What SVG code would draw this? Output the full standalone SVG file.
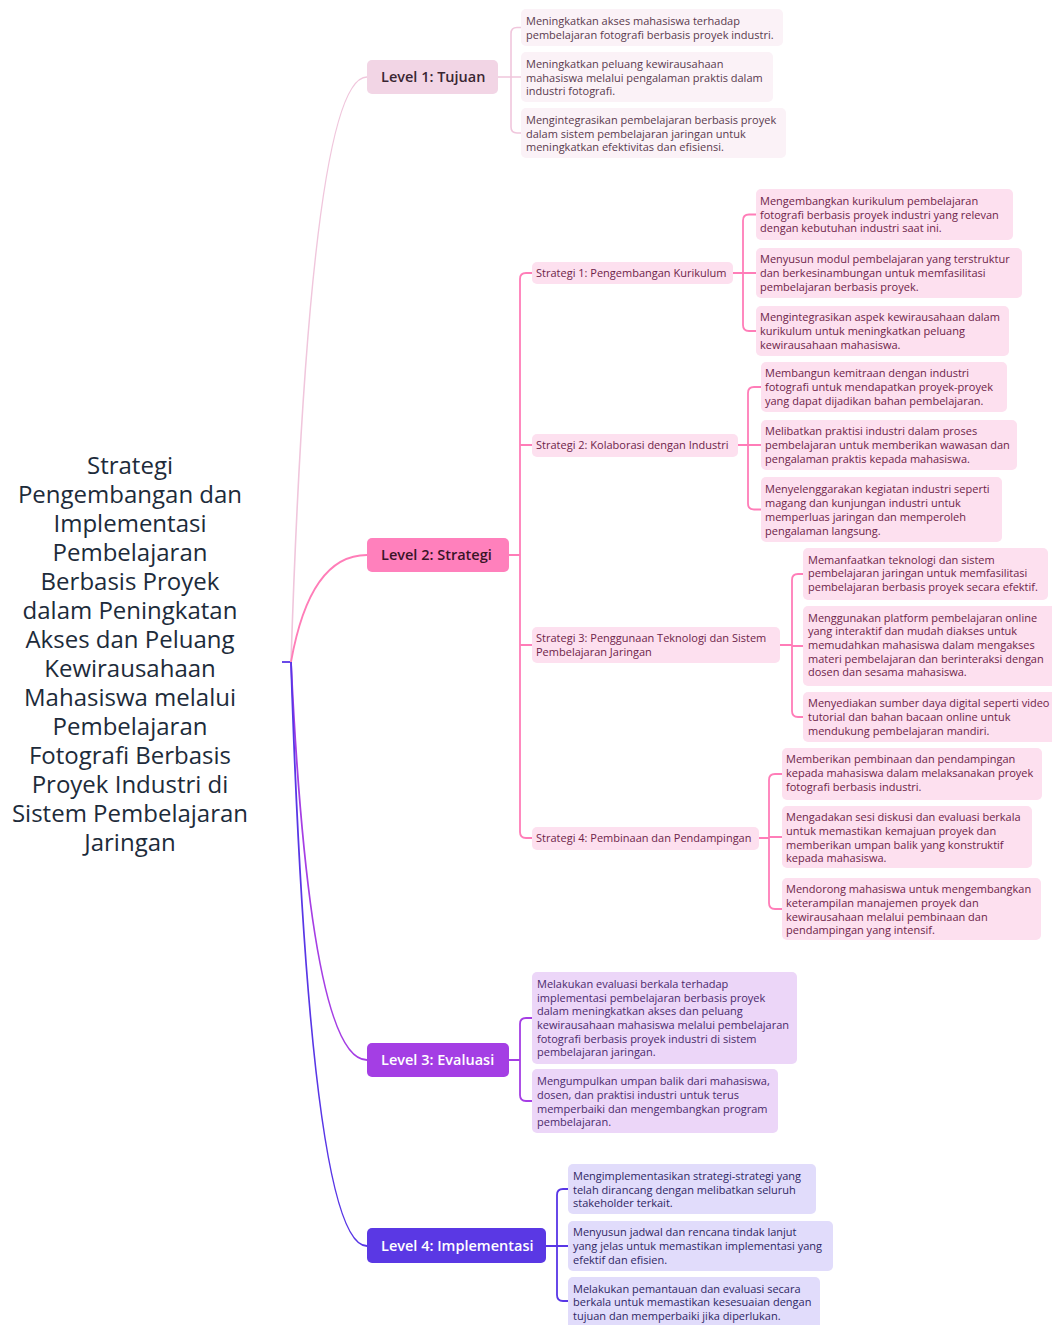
<svg xmlns="http://www.w3.org/2000/svg" width="1052" height="1325" viewBox="0 0 1052 1325">
<style>
text{font-family:"Open Sans","Noto Sans","Liberation Sans",sans-serif}
.title{font-size:24px;fill:#1d2b3a;text-anchor:middle}
.lvl{font-size:14.5px;font-weight:600}
.leaf{font-size:11px}
.c1{fill:none;stroke:#f0c6dc;stroke-width:1.6}
.c2{fill:none;stroke:#ff7db8;stroke-width:1.8}
.c3{fill:none;stroke:#a53ee4;stroke-width:1.8}
.c4{fill:none;stroke:#5836e6;stroke-width:1.8}
.b1{fill:#fbf2f7}.t1{fill:#5a3a4e}
.b2{fill:#fde0ef}.t2{fill:#6e2449}
.b3{fill:#ecd6f8}.t3{fill:#4b2a6c}
.b4{fill:#e1dcfb}.t4{fill:#2f2764}
</style>
<g id="connectors">
<path class="c4" d="M282,662 H291"/>
<path class="c1" d="M291,662 Q310,77 367,77"/>
<path class="c2" d="M291,662 Q310,555 367,555"/>
<path class="c3" d="M291,662 Q310,1060 367,1060"/>
<path class="c4" d="M291,662 Q310,1246 367,1246"/>
<path class="c1" d="M498,77 H511 M511,77 V33.5 Q511,27.5 517,27.5 H521 M511,77 H521 M511,77 V127 Q511,133 517,133 H521"/>
<path class="c2" d="M509,555 H520 M520,555 V279 Q520,273 526,273 H532 M520,445 H532 M520,645 H532 M520,555 V832 Q520,838 526,838 H532"/>
<path class="c2" d="M733,273 H743 M743,273 V220.5 Q743,214.5 749,214.5 H756 M743,273 H756 M743,273 V325 Q743,331 749,331 H756"/>
<path class="c2" d="M738,445 H748 M748,445 V393 Q748,387 754,387 H761 M748,445 H761 M748,445 V503.5 Q748,509.5 754,509.5 H761"/>
<path class="c2" d="M780,645 H792 M792,645 V580 Q792,574 798,574 H803 M792,646 H803 M792,645 V711 Q792,717 798,717 H803"/>
<path class="c2" d="M759,838 H769 M769,838 V780 Q769,774 775,774 H782 M769,837 H782 M769,838 V903 Q769,909 775,909 H782"/>
<path class="c3" d="M509,1060 H520 M520,1060 V1024 Q520,1018 526,1018 H532 M520,1060 V1095 Q520,1101 526,1101 H532"/>
<path class="c4" d="M546,1246 H557 M557,1246 V1195 Q557,1189 563,1189 H568 M557,1246 H568 M557,1246 V1295 Q557,1301 563,1301 H568"/>
</g>
<g id="root">
<text class="title"><tspan x="130" y="474">Strategi</tspan><tspan x="130" y="503">Pengembangan dan</tspan><tspan x="130" y="532">Implementasi</tspan><tspan x="130" y="561">Pembelajaran</tspan><tspan x="130" y="590">Berbasis Proyek</tspan><tspan x="130" y="619">dalam Peningkatan</tspan><tspan x="130" y="648">Akses dan Peluang</tspan><tspan x="130" y="677">Kewirausahaan</tspan><tspan x="130" y="706">Mahasiswa melalui</tspan><tspan x="130" y="735">Pembelajaran</tspan><tspan x="130" y="764">Fotografi Berbasis</tspan><tspan x="130" y="793">Proyek Industri di</tspan><tspan x="130" y="822">Sistem Pembelajaran</tspan><tspan x="130" y="851">Jaringan</tspan></text>
</g>
<g id="level1">
<rect x="367" y="60" width="131" height="34" rx="5" fill="#f2d5e5"/>
<text class="lvl" x="381" y="82" fill="#3a2632">Level 1: Tujuan</text>
</g>
<g id="l1a"><rect class="b1" x="521" y="9" width="262" height="37" rx="5"/>
<text class="leaf t1"><tspan x="526" y="25">Meningkatkan akses mahasiswa terhadap</tspan><tspan x="526" y="39">pembelajaran fotografi berbasis proyek industri.</tspan></text></g>
<g id="l1b"><rect class="b1" x="521" y="52" width="252" height="50" rx="5"/>
<text class="leaf t1"><tspan x="526" y="68">Meningkatkan peluang kewirausahaan</tspan><tspan x="526" y="82">mahasiswa melalui pengalaman praktis dalam</tspan><tspan x="526" y="95">industri fotografi.</tspan></text></g>
<g id="l1c"><rect class="b1" x="521" y="108" width="265" height="50" rx="5"/>
<text class="leaf t1"><tspan x="526" y="124">Mengintegrasikan pembelajaran berbasis proyek</tspan><tspan x="526" y="138">dalam sistem pembelajaran jaringan untuk</tspan><tspan x="526" y="151">meningkatkan efektivitas dan efisiensi.</tspan></text></g>

<g id="level2">
<rect x="367" y="538" width="142" height="34" rx="5" fill="#ff80bc"/>
<text class="lvl" x="381" y="560" fill="#3a1428">Level 2: Strategi</text>
</g>
<g id="s1"><rect class="b2" x="532" y="262" width="201" height="22" rx="5"/>
<text class="leaf t2" x="536" y="277">Strategi 1: Pengembangan Kurikulum</text></g>
<g id="s1a"><rect class="b2" x="756" y="189" width="257" height="51" rx="5"/>
<text class="leaf t2"><tspan x="760" y="205">Mengembangkan kurikulum pembelajaran</tspan><tspan x="760" y="219">fotografi berbasis proyek industri yang relevan</tspan><tspan x="760" y="232">dengan kebutuhan industri saat ini.</tspan></text></g>
<g id="s1b"><rect class="b2" x="756" y="248" width="266" height="50" rx="5"/>
<text class="leaf t2"><tspan x="760" y="263">Menyusun modul pembelajaran yang terstruktur</tspan><tspan x="760" y="277">dan berkesinambungan untuk memfasilitasi</tspan><tspan x="760" y="291">pembelajaran berbasis proyek.</tspan></text></g>
<g id="s1c"><rect class="b2" x="756" y="306" width="253" height="50" rx="5"/>
<text class="leaf t2"><tspan x="760" y="321">Mengintegrasikan aspek kewirausahaan dalam</tspan><tspan x="760" y="335">kurikulum untuk meningkatkan peluang</tspan><tspan x="760" y="349">kewirausahaan mahasiswa.</tspan></text></g>

<g id="s2"><rect class="b2" x="532" y="434" width="206" height="23" rx="5"/>
<text class="leaf t2" x="536" y="449">Strategi 2: Kolaborasi dengan Industri</text></g>
<g id="s2a"><rect class="b2" x="761" y="362" width="246" height="50" rx="5"/>
<text class="leaf t2"><tspan x="765" y="377">Membangun kemitraan dengan industri</tspan><tspan x="765" y="391">fotografi untuk mendapatkan proyek-proyek</tspan><tspan x="765" y="405">yang dapat dijadikan bahan pembelajaran.</tspan></text></g>
<g id="s2b"><rect class="b2" x="761" y="420" width="256" height="50" rx="5"/>
<text class="leaf t2"><tspan x="765" y="435">Melibatkan praktisi industri dalam proses</tspan><tspan x="765" y="449">pembelajaran untuk memberikan wawasan dan</tspan><tspan x="765" y="463">pengalaman praktis kepada mahasiswa.</tspan></text></g>
<g id="s2c"><rect class="b2" x="761" y="477" width="241" height="65" rx="5"/>
<text class="leaf t2"><tspan x="765" y="493">Menyelenggarakan kegiatan industri seperti</tspan><tspan x="765" y="507">magang dan kunjungan industri untuk</tspan><tspan x="765" y="521">memperluas jaringan dan memperoleh</tspan><tspan x="765" y="535">pengalaman langsung.</tspan></text></g>

<g id="s3"><rect class="b2" x="532" y="627" width="248" height="36" rx="5"/>
<text class="leaf t2"><tspan x="536" y="642">Strategi 3: Penggunaan Teknologi dan Sistem</tspan><tspan x="536" y="656">Pembelajaran Jaringan</tspan></text></g>
<g id="s3a"><rect class="b2" x="803" y="548" width="245" height="52" rx="5"/>
<text class="leaf t2"><tspan x="808" y="564">Memanfaatkan teknologi dan sistem</tspan><tspan x="808" y="577">pembelajaran jaringan untuk memfasilitasi</tspan><tspan x="808" y="591">pembelajaran berbasis proyek secara efektif.</tspan></text></g>
<g id="s3b"><rect class="b2" x="803" y="606" width="260" height="80" rx="5"/>
<text class="leaf t2"><tspan x="808" y="622">Menggunakan platform pembelajaran online</tspan><tspan x="808" y="635">yang interaktif dan mudah diakses untuk</tspan><tspan x="808" y="649">memudahkan mahasiswa dalam mengakses</tspan><tspan x="808" y="663">materi pembelajaran dan berinteraksi dengan</tspan><tspan x="808" y="676">dosen dan sesama mahasiswa.</tspan></text></g>
<g id="s3c"><rect class="b2" x="803" y="692" width="260" height="50" rx="5"/>
<text class="leaf t2"><tspan x="808" y="707">Menyediakan sumber daya digital seperti video</tspan><tspan x="808" y="721">tutorial dan bahan bacaan online untuk</tspan><tspan x="808" y="735">mendukung pembelajaran mandiri.</tspan></text></g>

<g id="s4"><rect class="b2" x="532" y="827" width="227" height="23" rx="5"/>
<text class="leaf t2" x="536" y="842">Strategi 4: Pembinaan dan Pendampingan</text></g>
<g id="s4a"><rect class="b2" x="782" y="748" width="260" height="52" rx="5"/>
<text class="leaf t2"><tspan x="786" y="763">Memberikan pembinaan dan pendampingan</tspan><tspan x="786" y="777">kepada mahasiswa dalam melaksanakan proyek</tspan><tspan x="786" y="791">fotografi berbasis industri.</tspan></text></g>
<g id="s4b"><rect class="b2" x="782" y="806" width="250" height="62" rx="5"/>
<text class="leaf t2"><tspan x="786" y="821">Mengadakan sesi diskusi dan evaluasi berkala</tspan><tspan x="786" y="835">untuk memastikan kemajuan proyek dan</tspan><tspan x="786" y="849">memberikan umpan balik yang konstruktif</tspan><tspan x="786" y="862">kepada mahasiswa.</tspan></text></g>
<g id="s4c"><rect class="b2" x="782" y="878" width="259" height="62" rx="5"/>
<text class="leaf t2"><tspan x="786" y="893">Mendorong mahasiswa untuk mengembangkan</tspan><tspan x="786" y="907">keterampilan manajemen proyek dan</tspan><tspan x="786" y="921">kewirausahaan melalui pembinaan dan</tspan><tspan x="786" y="934">pendampingan yang intensif.</tspan></text></g>

<g id="level3">
<rect x="367" y="1043" width="142" height="34" rx="5" fill="#a43ee4"/>
<text class="lvl" x="381" y="1065" fill="#ffffff">Level 3: Evaluasi</text>
</g>
<g id="l3a"><rect class="b3" x="532" y="972" width="265" height="92" rx="5"/>
<text class="leaf t3"><tspan x="537" y="988">Melakukan evaluasi berkala terhadap</tspan><tspan x="537" y="1002">implementasi pembelajaran berbasis proyek</tspan><tspan x="537" y="1015">dalam meningkatkan akses dan peluang</tspan><tspan x="537" y="1029">kewirausahaan mahasiswa melalui pembelajaran</tspan><tspan x="537" y="1043">fotografi berbasis proyek industri di sistem</tspan><tspan x="537" y="1056">pembelajaran jaringan.</tspan></text></g>
<g id="l3b"><rect class="b3" x="532" y="1069" width="246" height="64" rx="5"/>
<text class="leaf t3"><tspan x="537" y="1085">Mengumpulkan umpan balik dari mahasiswa,</tspan><tspan x="537" y="1099">dosen, dan praktisi industri untuk terus</tspan><tspan x="537" y="1113">memperbaiki dan mengembangkan program</tspan><tspan x="537" y="1126">pembelajaran.</tspan></text></g>

<g id="level4">
<rect x="367" y="1228" width="179" height="35" rx="5" fill="#5a38e4"/>
<text class="lvl" x="381" y="1251" fill="#ffffff">Level 4: Implementasi</text>
</g>
<g id="l4a"><rect class="b4" x="568" y="1164" width="248" height="50" rx="5"/>
<text class="leaf t4"><tspan x="573" y="1180">Mengimplementasikan strategi-strategi yang</tspan><tspan x="573" y="1194">telah dirancang dengan melibatkan seluruh</tspan><tspan x="573" y="1207">stakeholder terkait.</tspan></text></g>
<g id="l4b"><rect class="b4" x="568" y="1221" width="265" height="50" rx="5"/>
<text class="leaf t4"><tspan x="573" y="1236">Menyusun jadwal dan rencana tindak lanjut</tspan><tspan x="573" y="1250">yang jelas untuk memastikan implementasi yang</tspan><tspan x="573" y="1264">efektif dan efisien.</tspan></text></g>
<g id="l4c"><rect class="b4" x="568" y="1277" width="252" height="55" rx="5"/>
<text class="leaf t4"><tspan x="573" y="1293">Melakukan pemantauan dan evaluasi secara</tspan><tspan x="573" y="1306">berkala untuk memastikan kesesuaian dengan</tspan><tspan x="573" y="1320">tujuan dan memperbaiki jika diperlukan.</tspan></text></g>
</svg>
